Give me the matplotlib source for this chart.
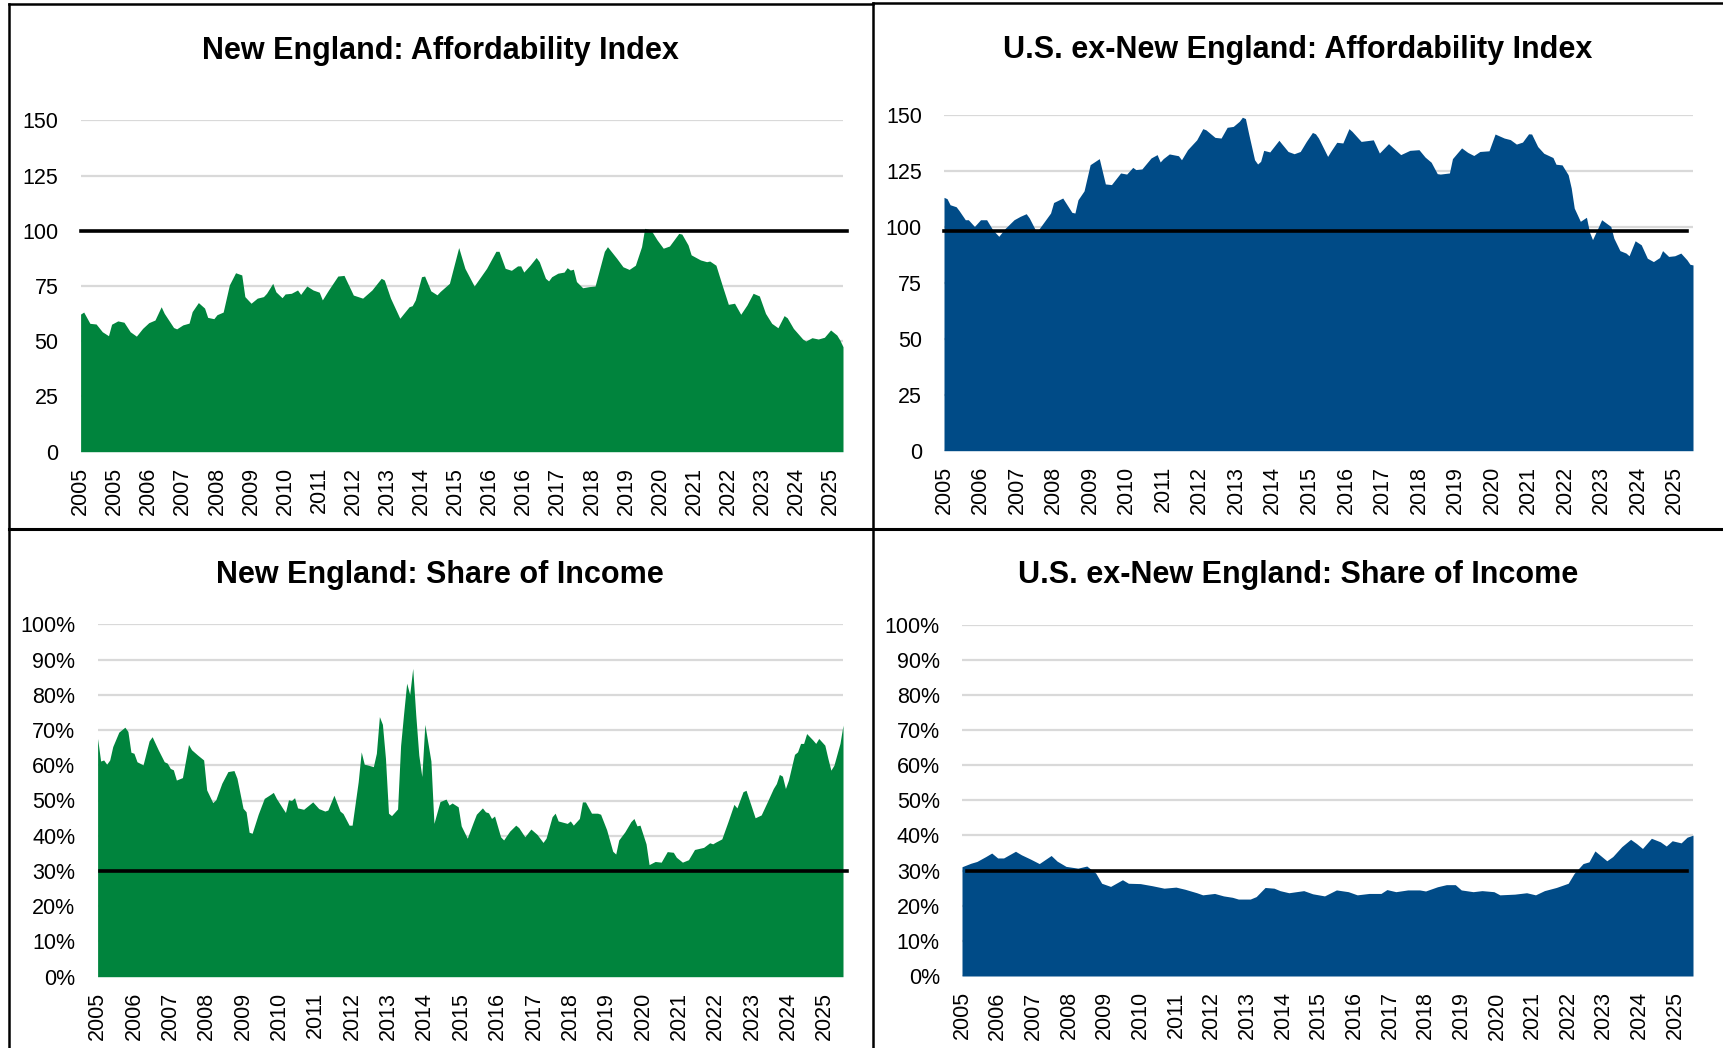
"""Housing affordability: New England vs the rest of the U.S.

Four area panels (affordability index and mortgage share of income), monthly
from Jan 2005, values read off the published chart at their turning points.
"""
import matplotlib

matplotlib.use("Agg")
import matplotlib.pyplot as plt
from matplotlib.lines import Line2D
from matplotlib.ticker import FuncFormatter

W, H = 1723, 1048

GREEN = "#00843d"
BLUE = "#004b87"
GRID = "#d9d9d9"

NARROW = ["Liberation Sans Narrow", "Liberation Sans", "DejaVu Sans"]
REGULAR = ["Liberation Sans", "DejaVu Sans"]

# months since Jan 2005
NE_INDEX_MONTHS = [
    0, 1, 3, 5, 7, 9, 10, 12, 14, 16, 18, 20, 22, 24, 26, 27, 30, 31, 33, 35,
    36, 38, 40, 41, 43, 44, 46, 48, 50, 52, 53, 55, 57, 59, 60, 62, 63, 65, 66,
    68, 70, 71, 73, 75, 77, 78, 80, 83, 85, 88, 91, 94, 97, 98, 100, 103, 106,
    107, 108, 110, 111, 113, 115, 116, 119, 122, 124, 127, 128, 131, 134, 135,
    137, 139, 141, 142, 143, 145, 147, 148, 150, 151, 152, 154, 156, 157, 158,
    159, 160, 162, 164, 166, 169, 170, 173, 175, 177, 179, 181, 182, 184, 186,
    188, 190, 193, 194, 196, 197, 200, 202, 203, 205, 207, 209, 211, 213, 215,
    217, 219, 221, 223, 225, 227, 228, 230, 233, 234, 236, 238, 240, 242, 244,
    245, 246,
]
NE_INDEX = [
    62.3, 63.2, 58.1, 57.8, 54.3, 52.5, 57.7, 59.2, 58.6, 54.3, 52.3, 55.8,
    58.4, 59.6, 65.6, 62.6, 56.2, 55.6, 57.4, 58.2, 63.4, 67.5, 65.0, 60.8,
    60.2, 62.0, 63.2, 75.5, 81.0, 80.0, 70.2, 67.2, 69.5, 70.2, 71.7, 76.2,
    72.4, 69.7, 71.4, 71.7, 73.2, 71.2, 75.0, 73.2, 72.2, 68.7, 73.2, 79.5,
    79.8, 70.9, 69.5, 73.2, 78.5, 77.7, 69.5, 60.4, 65.6, 66.1, 68.7, 79.2,
    79.5, 72.8, 71.0, 72.5, 76.2, 92.4, 83.0, 75.0, 77.0, 83.0, 90.7, 90.7,
    83.0, 82.1, 84.1, 84.1, 81.3, 84.4, 87.9, 86.0, 78.5, 77.3, 79.2, 80.8,
    81.3, 83.3, 82.2, 82.6, 77.0, 74.2, 74.7, 75.0, 90.7, 92.8, 87.5, 83.7,
    82.5, 84.4, 92.8, 101.1, 100.4, 95.9, 92.1, 93.1, 98.8, 98.5, 93.6, 89.1,
    86.8, 86.0, 86.3, 84.4, 75.4, 66.7, 67.2, 62.2, 66.4, 71.7, 70.5, 62.6,
    58.1, 56.1, 61.6, 60.6, 55.8, 51.0, 50.1, 51.6, 51.0, 51.8, 55.1, 52.8,
    50.5, 47.5,
]

US_INDEX_MONTHS = [
    0, 1, 2, 4, 5, 7, 8, 10, 12, 14, 16, 18, 20, 23, 25, 27, 28, 30, 31, 35,
    36, 39, 42, 43, 44, 46, 48, 51, 53, 55, 58, 60, 62, 63, 65, 68, 70, 71, 72,
    74, 77, 78, 80, 83, 85, 86, 89, 91, 93, 95, 97, 98, 99, 100, 102, 103, 104,
    105, 107, 110, 111, 113, 115, 117, 119, 121, 122, 123, 126, 127, 129, 131,
    133, 134, 137, 141, 143, 146, 150, 153, 156, 158, 160, 162, 163, 166, 167,
    170, 172, 174, 176, 179, 181, 184, 186, 188, 190, 192, 193, 195, 197, 200,
    201, 203, 205, 206, 207, 209, 211, 212, 213, 215, 216, 219, 220, 222, 224,
    225, 227, 229, 231, 233, 235, 236, 238, 240, 242, 244, 245, 246,
]
US_INDEX = [
    113.2, 112.6, 109.9, 109.0, 107.2, 103.2, 103.2, 100.2, 103.2, 103.2, 98.7,
    95.8, 99.2, 103.2, 104.7, 105.9, 104.0, 98.7, 98.7, 106.2, 110.9, 112.9,
    106.5, 106.2, 112.1, 116.1, 127.8, 130.5, 119.2, 118.9, 124.1, 123.6, 126.6,
    125.6, 125.9, 130.8, 132.3, 129.0, 130.5, 132.6, 131.8, 130.0, 134.5, 138.9,
    143.9, 143.4, 140.0, 139.7, 144.5, 144.9, 147.2, 149.0, 148.4, 142.0, 130.0,
    128.1, 129.3, 134.2, 133.5, 138.7, 137.0, 133.7, 132.7, 133.7, 138.2, 142.2,
    141.6, 139.7, 131.5, 133.7, 137.8, 137.5, 143.9, 142.7, 138.2, 138.9, 133.0,
    137.2, 132.3, 134.2, 134.5, 131.2, 128.9, 123.8, 123.6, 124.1, 130.5, 135.3,
    133.3, 131.9, 133.7, 134.0, 141.5, 139.7, 139.0, 137.0, 137.9, 141.6, 141.5,
    135.9, 132.9, 131.0, 128.0, 127.7, 123.3, 117.4, 108.4, 102.5, 104.3, 97.7,
    94.3, 100.2, 103.2, 100.2, 95.0, 89.4, 88.3, 87.1, 93.8, 92.0, 86.0, 84.5,
    86.3, 89.4, 86.8, 87.1, 88.3, 85.3, 83.3, 83.0,
]

NE_SHARE_MONTHS = [
    0, 1, 2, 3, 4, 5, 7, 9, 10, 11, 12, 13, 15, 17, 18, 20, 22, 23, 24, 25, 26,
    28, 30, 31, 33, 35, 36, 38, 39, 41, 43, 45, 46, 48, 49, 50, 51, 53, 55, 57,
    58, 59, 61, 62, 63, 64, 65, 66, 68, 71, 73, 75, 76, 78, 80, 81, 83, 84, 86,
    87, 88, 89, 91, 92, 93, 94, 95, 96, 97, 99, 100, 101, 102, 103, 104, 105,
    106, 107, 108, 110, 111, 113, 115, 116, 117, 119, 120, 122, 124, 125, 127,
    128, 129, 130, 131, 133, 134, 136, 138, 139, 141, 143, 145, 147, 148, 150,
    151, 152, 155, 156, 157, 159, 160, 161, 163, 165, 166, 168, 170, 171, 172,
    174, 176, 177, 178, 179, 181, 182, 184, 186, 188, 190, 191, 193, 195, 197,
    200, 202, 203, 204, 206, 208, 210, 211, 213, 214, 216, 217, 219, 221, 223,
    224, 225, 226, 227, 228, 230, 231, 232, 233, 234, 236, 237, 238, 240, 241,
    242, 243, 245, 246,
]
NE_SHARE = [
    67.6, 61.2, 61.5, 60.3, 61.5, 65.3, 69.4, 70.8, 69.6, 63.7, 63.4, 61.0,
    60.1, 66.9, 68.1, 64.4, 61.0, 60.6, 59.1, 58.7, 55.8, 56.5, 65.9, 64.4,
    62.9, 61.5, 53.0, 49.4, 50.2, 54.9, 58.2, 58.5, 56.3, 47.8, 46.8, 41.0,
    40.7, 46.1, 50.6, 51.7, 52.3, 50.6, 47.9, 46.6, 50.2, 50.0, 50.8, 47.9,
    47.5, 49.6, 47.7, 47.0, 47.3, 51.5, 47.0, 46.3, 43.0, 43.0, 55.3, 63.8,
    60.3, 60.1, 59.6, 63.4, 73.8, 71.6, 62.0, 46.4, 45.7, 47.6, 65.6, 74.7,
    83.3, 80.1, 87.5, 74.3, 62.9, 56.8, 71.6, 61.2, 43.5, 49.7, 50.4, 48.7,
    49.3, 48.2, 42.8, 39.3, 43.9, 46.1, 47.9, 46.8, 46.5, 44.9, 45.6, 39.7,
    38.8, 41.3, 43.0, 42.3, 39.7, 41.9, 40.4, 38.1, 39.3, 45.4, 46.4, 44.2,
    43.5, 44.2, 43.0, 44.9, 49.6, 49.6, 46.4, 46.4, 46.1, 41.7, 35.6, 34.8,
    38.8, 41.1, 44.0, 44.9, 42.8, 43.0, 37.7, 31.8, 32.7, 32.5, 35.5, 35.3,
    33.9, 32.5, 33.2, 36.1, 36.7, 38.0, 37.7, 38.2, 39.1, 43.9, 48.9, 47.9,
    52.5, 52.9, 47.7, 45.1, 45.9, 49.6, 53.4, 54.8, 57.4, 56.9, 53.4, 55.8,
    63.1, 63.8, 66.2, 66.2, 69.0, 67.2, 66.2, 67.6, 65.7, 62.0, 58.6, 60.0,
    66.2, 71.4,
]

US_SHARE_MONTHS = [
    0, 3, 5, 8, 10, 12, 14, 18, 20, 23, 26, 30, 32, 35, 39, 42, 45, 47, 50, 54,
    56, 60, 64, 68, 72, 75, 79, 81, 85, 88, 91, 93, 97, 99, 102, 105, 107, 110,
    115, 118, 122, 126, 130, 133, 137, 141, 143, 146, 150, 154, 156, 160, 163,
    166, 168, 172, 175, 179, 181, 186, 190, 193, 196, 200, 204, 206, 209, 211,
    213, 217, 219, 222, 225, 227, 229, 232, 235, 237, 239, 242, 244, 246,
]
US_SHARE = [
    31.1, 32.1, 32.6, 34.0, 35.0, 33.6, 33.6, 35.5, 34.5, 33.3, 32.0, 34.3,
    32.7, 31.2, 30.7, 31.3, 29.3, 26.4, 25.5, 27.4, 26.4, 26.3, 25.7, 25.0,
    25.3, 24.7, 23.7, 23.1, 23.5, 22.8, 22.4, 21.9, 21.9, 22.6, 25.2, 25.0,
    24.3, 23.7, 24.3, 23.4, 22.8, 24.5, 24.0, 23.1, 23.5, 23.5, 24.6, 24.0,
    24.5, 24.5, 24.2, 25.4, 26.0, 26.0, 24.5, 24.0, 24.3, 24.0, 23.1, 23.3,
    23.7, 23.1, 24.3, 25.2, 26.4, 29.2, 32.0, 32.5, 35.6, 32.8, 34.0, 36.8,
    38.9, 37.7, 36.3, 39.2, 38.2, 37.0, 38.5, 37.9, 39.5, 40.1,
]

# the New England index axis labels every 11 months, the others every 12
NE_INDEX_TICKS = list(range(0, 243, 11))
NE_INDEX_TICK_LABELS = [
    "2005", "2005", "2006", "2007", "2008", "2009", "2010", "2011", "2012",
    "2013", "2014", "2015", "2016", "2016", "2017", "2018", "2019", "2020",
    "2021", "2022", "2023", "2024", "2025",
]
YEAR_TICKS = list(range(0, 241, 12))
YEAR_TICK_LABELS = [str(y) for y in range(2005, 2026)]

INDEX_YTICKS = [0, 25, 50, 75, 100, 125, 150]
SHARE_YTICKS = [0, 10, 20, 30, 40, 50, 60, 70, 80, 90, 100]

NE_INDEX_REF = 100
US_INDEX_REF = 98
SHARE_REF = 30


def px_rect(left, top, right, bottom):
    """Pixel box (origin top-left) -> figure-fraction [l, b, w, h]."""
    return [left / W, 1 - bottom / H, (right - left) / W, (bottom - top) / H]


def area_panel(fig, rect, months, values, color, yticks, xticks, xlabels,
               ref, ref_span, pct=False):
    ax = fig.add_axes(rect)
    ax.fill_between(months, values, 0, color=color, lw=0, zorder=2)
    ax.axhline(ref, xmin=ref_span[0], xmax=ref_span[1], color="black",
               lw=2.6, zorder=3, clip_on=False)
    ax.set_xlim(0, 246)
    ax.set_ylim(yticks[0], yticks[-1])
    ax.set_yticks(yticks)
    ax.yaxis.grid(True, color=GRID, lw=1.6)
    ax.set_axisbelow(True)
    if pct:
        ax.yaxis.set_major_formatter(FuncFormatter(lambda v, _: f"{v:.0f}%"))
    ax.set_xticks(xticks)
    ax.set_xticklabels(xlabels, rotation=90, family=REGULAR, fontsize=15.5)
    for lab in ax.get_yticklabels():
        lab.set_family(NARROW)
        lab.set_fontsize(15.5)
    ax.tick_params(length=0)
    ax.tick_params(axis="x", pad=11)
    ax.tick_params(axis="y", pad=16)
    for s in ax.spines.values():
        s.set_visible(False)
    return ax


def frame_line(fig, x0, y0, x1, y1, lw=1.8):
    fig.add_artist(Line2D([x0 / W, x1 / W], [1 - y0 / H, 1 - y1 / H],
                          transform=fig.transFigure, color="black", lw=lw))


fig = plt.figure(figsize=(W / 100, H / 100), dpi=100)

area_panel(fig, px_rect(80.6, 120.3, 843, 451.7), NE_INDEX_MONTHS, NE_INDEX,
           GREEN, INDEX_YTICKS, NE_INDEX_TICKS, NE_INDEX_TICK_LABELS,
           NE_INDEX_REF, (0.0, 1.005))
area_panel(fig, px_rect(944, 115, 1693, 450.7), US_INDEX_MONTHS, US_INDEX,
           BLUE, INDEX_YTICKS, YEAR_TICKS, YEAR_TICK_LABELS,
           US_INDEX_REF, (0.0, 0.992))
area_panel(fig, px_rect(97.6, 624.3, 843, 976.7), NE_SHARE_MONTHS, NE_SHARE,
           GREEN, SHARE_YTICKS, YEAR_TICKS, YEAR_TICK_LABELS,
           SHARE_REF, (0.003, 1.006), pct=True)
area_panel(fig, px_rect(962, 624.7, 1693, 976), US_SHARE_MONTHS, US_SHARE,
           BLUE, SHARE_YTICKS, YEAR_TICKS, YEAR_TICK_LABELS,
           SHARE_REF, (0.007, 0.992), pct=True)

title_kw = dict(family=NARROW, fontweight="bold", fontsize=22,
                ha="center", va="center")
fig.text(440 / W, 1 - 51 / H, "New England: Affordability Index", **title_kw)
fig.text(1298 / W, 1 - 50 / H, "U.S. ex-New England: Affordability Index",
         **title_kw)
fig.text(440 / W, 1 - 575 / H, "New England: Share of Income", **title_kw)
fig.text(1298 / W, 1 - 575 / H, "U.S. ex-New England: Share of Income",
         **title_kw)

# panel frames
frame_line(fig, 9, 4, 873, 4)
frame_line(fig, 873, 3, W, 3)
frame_line(fig, 9, 4, 9, H)
frame_line(fig, 873, 3, 873, H)
frame_line(fig, 9, 529, W, 529, lw=2.2)

fig.savefig("out.png", dpi=100)
